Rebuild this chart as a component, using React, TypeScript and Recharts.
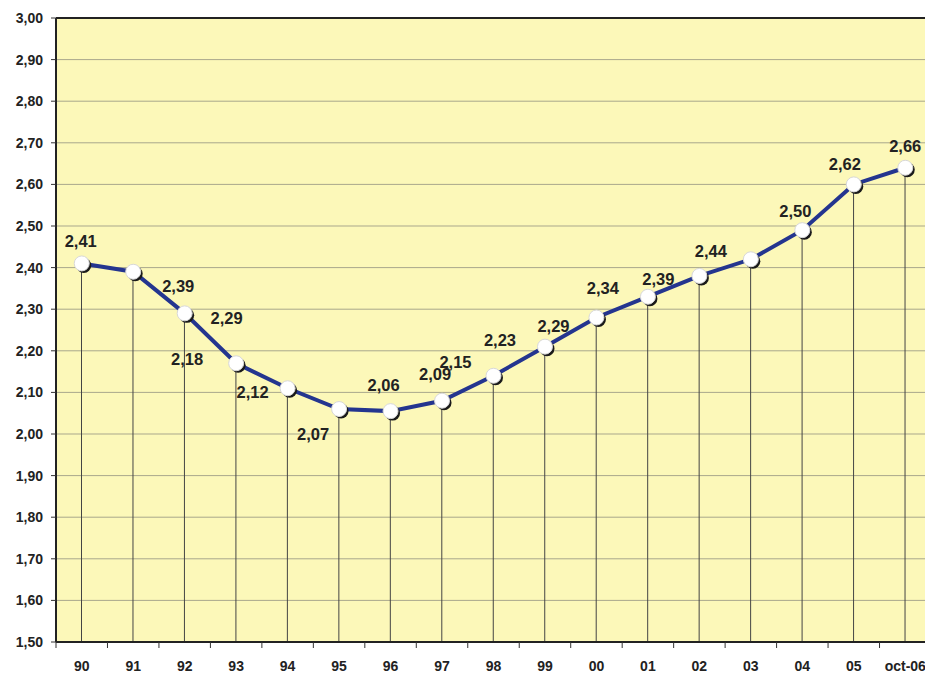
import { ComposedChart, Line, Bar, XAxis, YAxis, CartesianGrid, ReferenceLine } from 'recharts';

// categories along the x axis
const years = ['90', '91', '92', '93', '94', '95', '96', '97', '98', '99', '00', '01', '02', '03', '04', '05', 'oct-06'];
// plotted values
const values = [2.41, 2.39, 2.29, 2.17, 2.11, 2.06, 2.055, 2.08, 2.14, 2.21, 2.28, 2.33, 2.38, 2.42, 2.49, 2.6, 2.64];
// printed data labels
const pointLabels = ['2,41', '2,39', '2,29', '2,18', '2,12', '2,07', '2,06', '2,09', '2,15', '2,23', '2,29', '2,34', '2,39', '2,44', '2,50', '2,62', '2,66'];
// y axis ticks
const yTicks = [1.5, 1.6, 1.7, 1.8, 1.9, 2.0, 2.1, 2.2, 2.3, 2.4, 2.5, 2.6, 2.7, 2.8, 2.9, 3.0];

// label placement relative to each marker (dx, dy)
const labelOffsets: [number, number][] = [
  [-1, -22], [45, 14], [42, 5], [-49, -4], [-35, 4], [-26, 25], [-7, -26], [-7, -27], [-38, -14],
  [-45, -7], [-43, 8], [-45, -9], [-41, 3], [-40, -8], [-7, -19], [-9, -20], [0, -22],
];

const data = years.map((year, i) => ({ year, value: values[i], label: pointLabels[i] }));

const FONT = '"Liberation Sans", Arial, sans-serif';
const CHART_W = 935;
const MARGIN_R = 4;
const Y_W = 56;
const halfBand = (CHART_W - MARGIN_R - Y_W) / years.length / 2;

function fmt(v: number) {
  return v.toFixed(2).replace('.', ',');
}

function XTick({ x, y, payload }: { x?: number; y?: number; payload?: { value: string } }) {
  if (x == null || y == null) return null;
  return (
    <g>
      <line x1={x - halfBand} x2={x - halfBand} y1={y - 2} y2={y + 4} stroke="#333" strokeWidth={1} />
      <text x={x} y={y + 22} textAnchor="middle" dominantBaseline="central" fontFamily={FONT} fontWeight="bold" fontSize={14} fill="#222">
        {payload?.value}
      </text>
    </g>
  );
}

function Dot({ cx, cy, index }: { cx?: number; cy?: number; index?: number }) {
  if (cx == null || cy == null) return null;
  return (
    <g key={`dot-${index}`}>
      <circle cx={cx + 2} cy={cy + 2} r={7.5} fill="#1a1a1a" />
      <circle cx={cx} cy={cy} r={7.5} fill="#ffffff" stroke="#d8d8d8" strokeWidth={1} />
    </g>
  );
}

function PointLabel({ x, y, index }: { x?: number; y?: number; index?: number }) {
  if (x == null || y == null || index == null) return null;
  const [dx, dy] = labelOffsets[index];
  return (
    <text x={x + dx} y={y + dy} textAnchor="middle" dominantBaseline="central" fontFamily={FONT} fontWeight="bold" fontSize={16.5} fill="#222">
      {pointLabels[index]}
    </text>
  );
}

export default function App() {
  return (
    <div style={{ position: 'fixed', left: 0, top: 0, width: 925, height: 678, overflow: 'hidden', background: '#ffffff' }}>
      <ComposedChart width={CHART_W} height={678} data={data} margin={{ top: 18, right: MARGIN_R, bottom: 0, left: 0 }}>
        <CartesianGrid horizontal vertical={false} stroke="#a9a78c" fill="#fcf8b9" />
        <XAxis
          dataKey="year"
          height={36}
          axisLine={{ stroke: '#222', strokeWidth: 2 }}
          tickLine={false}
          tickSize={0}
          interval={0}
          tick={<XTick />}
        />
        <YAxis
          domain={[1.5, 3]}
          ticks={yTicks}
          width={Y_W}
          tickFormatter={fmt}
          axisLine={{ stroke: '#222', strokeWidth: 2 }}
          tickLine={{ stroke: '#333' }}
          tickSize={5}
          tickMargin={8}
          tick={{ fill: '#222', fontSize: 14, fontWeight: 'bold', fontFamily: FONT }}
          interval={0}
        />
        <ReferenceLine y={3} stroke="#222" strokeWidth={2} />
        <Bar dataKey="value" barSize={1} fill="#444" isAnimationActive={false} />
        <Line
          dataKey="value"
          type="linear"
          stroke="#24358f"
          strokeWidth={4}
          dot={(p: any) => <Dot key={`d${p.index}`} cx={p.cx} cy={p.cy} index={p.index} />}
          activeDot={false}
          label={(p: any) => <PointLabel key={`l${p.index}`} x={p.x} y={p.y} index={p.index} />}
          isAnimationActive={false}
        />
      </ComposedChart>
    </div>
  );
}
